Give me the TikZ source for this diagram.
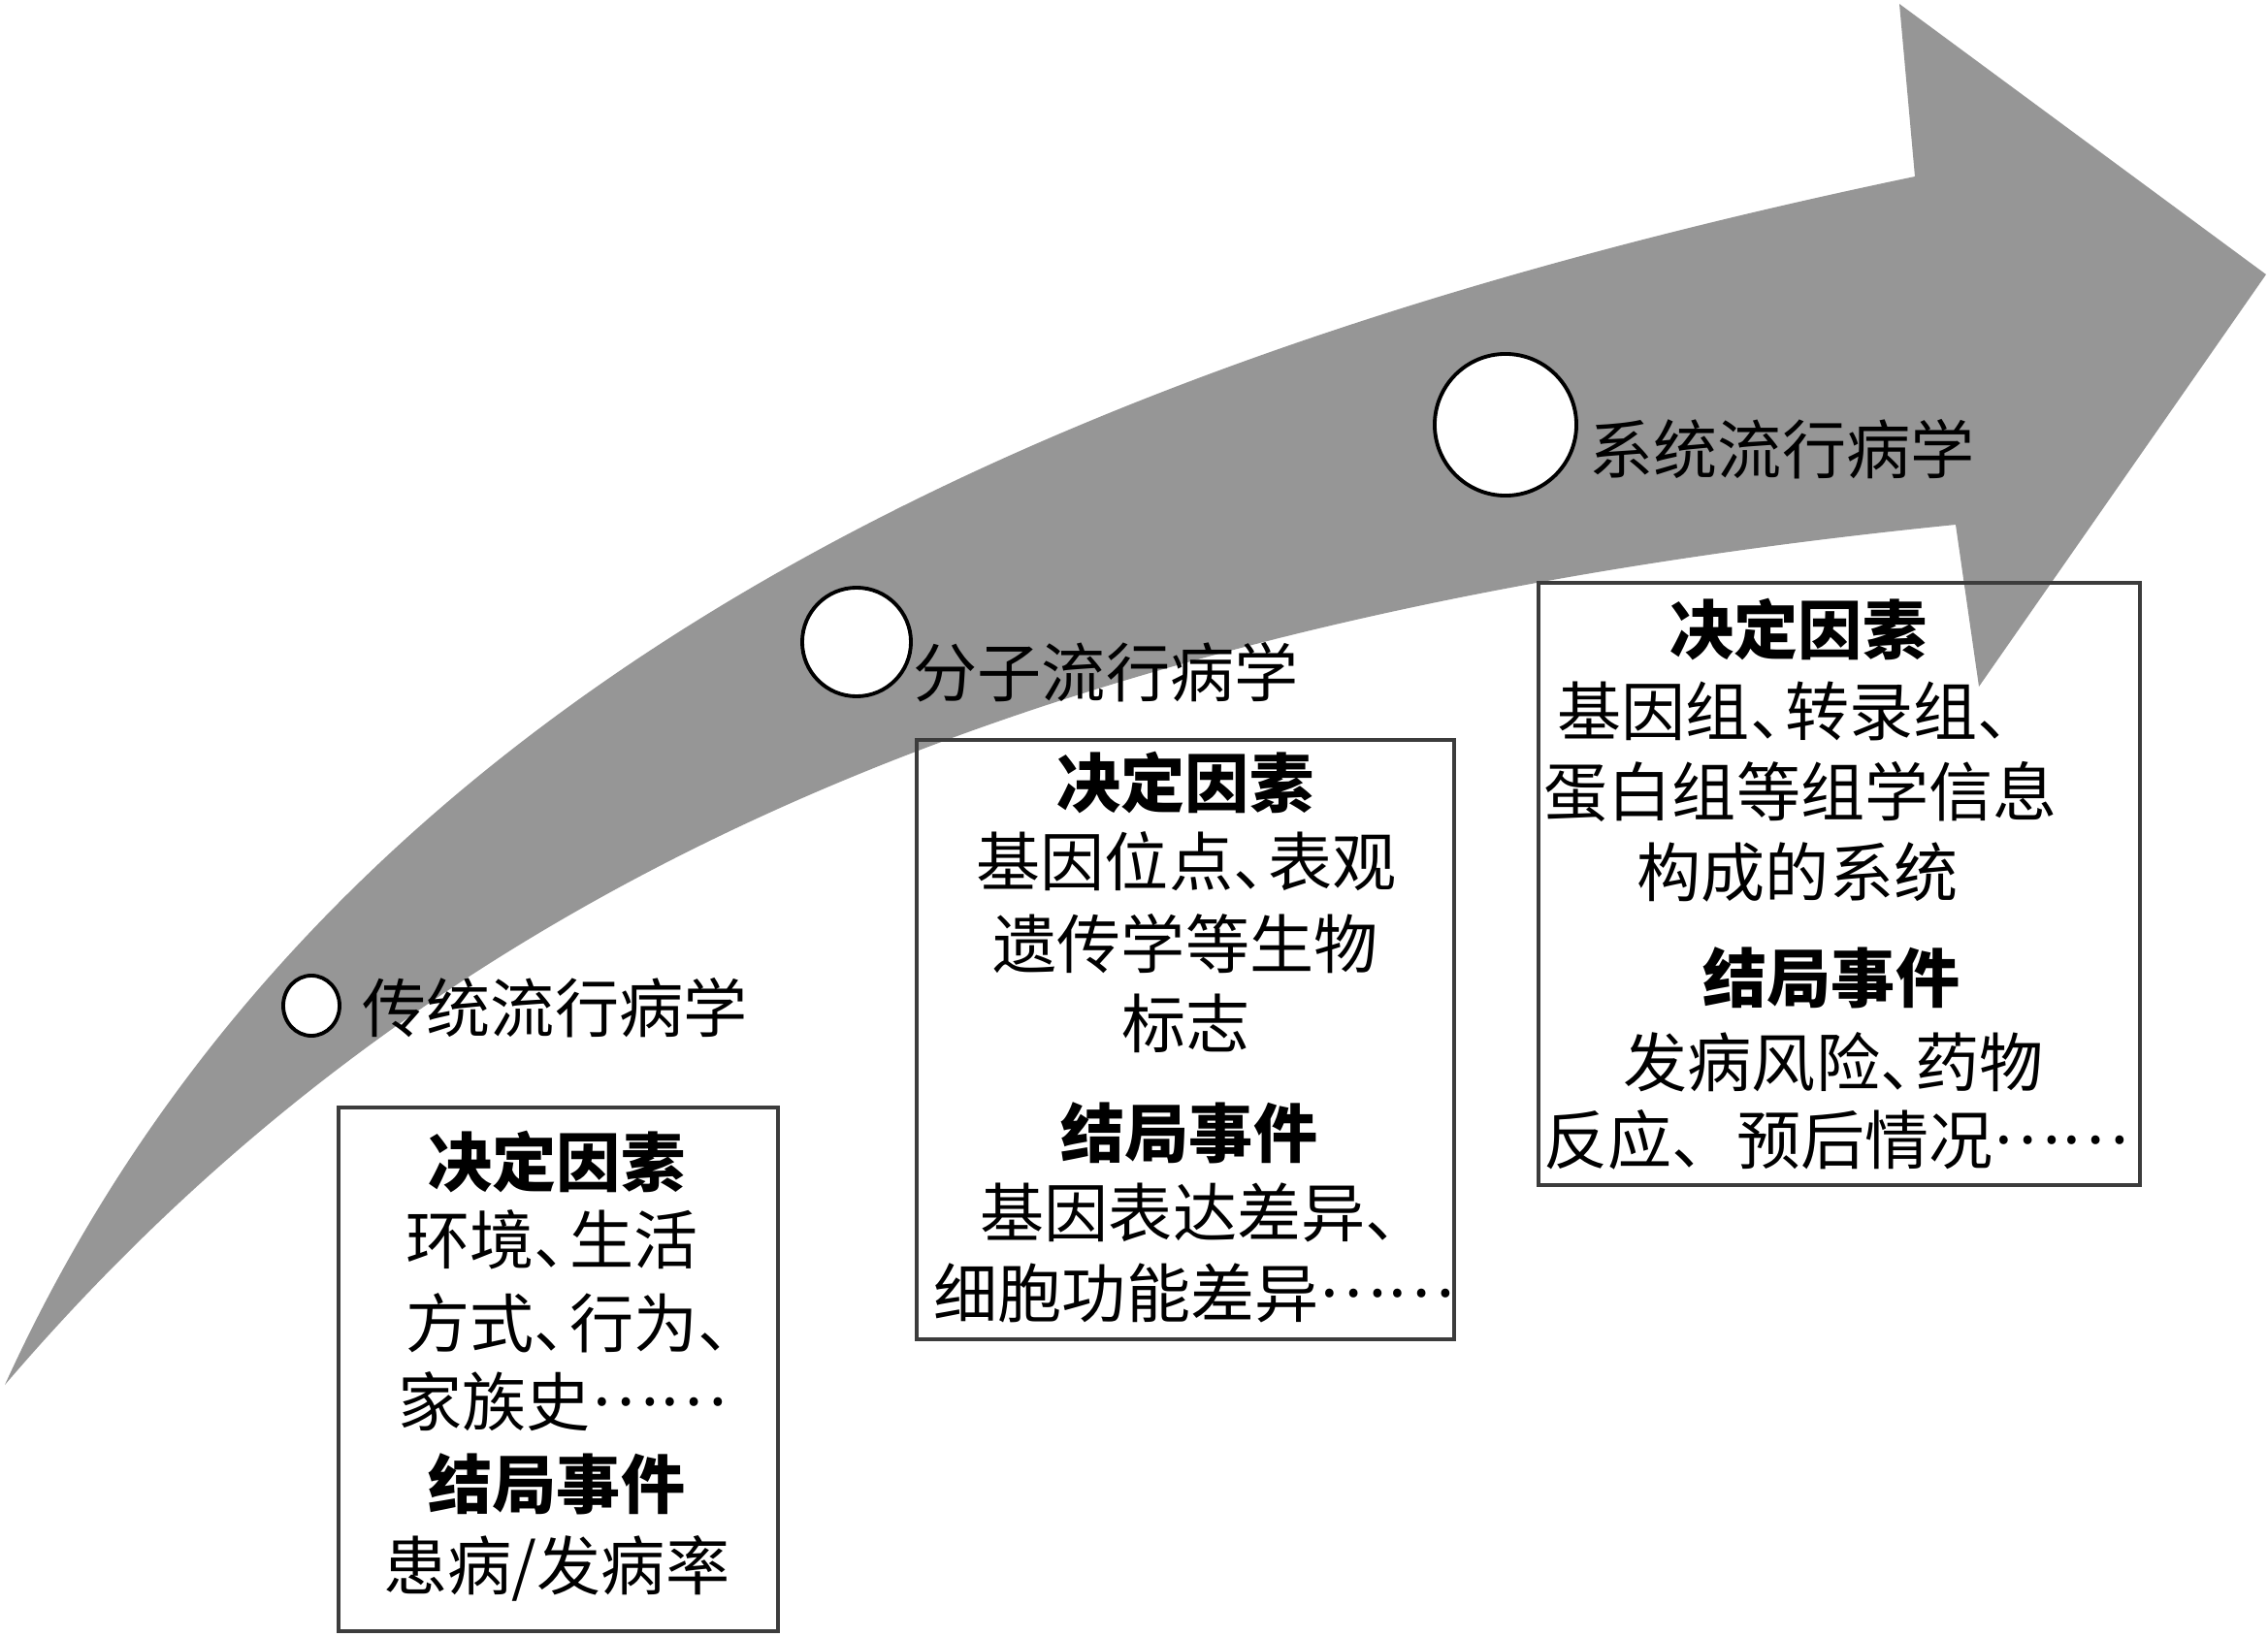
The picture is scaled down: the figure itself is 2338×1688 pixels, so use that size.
\documentclass[tikz,border=0pt]{standalone}
\usepackage{fontspec}
\usetikzlibrary{shapes.geometric}
\newfontfamily\cjk{Noto Sans CJK SC}
\definecolor{arrowgray}{RGB}{150,150,150}
\definecolor{boxline}{RGB}{60,60,60}
\newcommand\dun{、\kern-0.45em\relax}
\newcommand\mydots{\raisebox{0.32em}{……}}
\begin{document}
\begin{tikzpicture}[x=0.01cm,y=-0.01cm,
  txt/.style={anchor=west, inner sep=0pt, font=\cjk\fontsize{18.8pt}{22pt}\selectfont, text height=16.5pt, text depth=2.3pt},
  hd/.style={txt, font=\cjk\bfseries\fontsize{18.8pt}{22pt}\selectfont},
  ring/.style={draw=black, fill=white, line width=1.1pt, inner sep=0pt},
  frame/.style={draw=boxline, line width=1.2pt, rectangle, inner sep=0pt}]
\useasboundingbox (0,0) rectangle (2338,1688);
% big curved arrow
\fill[arrowgray] (5,1428) .. controls (336,700) and (1093,366) .. (1974,182)
  -- (1958,4) -- (2336,283) -- (2040,708) -- (2016,541)
  .. controls (1021,641) and (428,934) .. (5,1428) -- cycle;
% circles
\node[ring, ellipse, minimum width=0.58cm, minimum height=0.62cm] (c1) at (321,1037) {};
\node[ring, circle, minimum size=1.12cm] (c2) at (883,662) {};
\node[ring, circle, minimum size=1.46cm] (c3) at (1552,438) {};
% stage labels
\node[txt] (l1) at (373,1040) {传统流行病学};
\node[txt] (l2) at (941,694) {分子流行病学};
\node[txt] (l3) at (1638,464) {系统流行病学};
% boxes
\node[frame, minimum width=4.53cm, minimum height=5.40cm] (b1) at (575.5,1412) {};
\node[frame, minimum width=5.54cm, minimum height=6.18cm] (b2) at (1222,1072) {};
\node[frame, minimum width=6.20cm, minimum height=6.21cm] (b3) at (1896,911.5) {};
% box 1 text
\node[hd]  (b1h1) at (441,1199) {决定因素};
\node[txt] (b1t1) at (418,1279) {环境\dun 生活};
\node[txt] (b1t2) at (418,1365) {方式\dun 行为、};
\node[txt] (b1t3) at (410,1446) {家族史\mydots};
\node[hd]  (b1h2) at (441,1531) {结局事件};
\node[txt] (b1t4) at (395,1615) {患病/发病率};
% box 2 text
\node[hd]  (b2h1) at (1089,808) {决定因素};
\node[txt] (b2t1) at (1006,889) {基因位点\dun 表观};
\node[txt] (b2t2) at (1023,974) {遗传学等生物};
\node[txt] (b2t3) at (1156,1056) {标志};
\node[hd]  (b2h2) at (1093,1169) {结局事件};
\node[txt] (b2t4) at (1010,1251) {基因表达差异、};
\node[txt] (b2t5) at (962,1334) {细胞功能差异\mydots};
% box 3 text
\node[hd]  (b3h1) at (1721,650) {决定因素};
\node[txt] (b3t1) at (1605,734) {基因组\dun 转录组、};
\node[txt] (b3t2) at (1591,817) {蛋白组等组学信息};
\node[txt] (b3t3) at (1687,900) {构成的系统};
\node[hd]  (b3h2) at (1755,1009) {结局事件};
\node[txt] (b3t4) at (1673,1096) {发病风险\dun 药物};
\node[txt] (b3t5) at (1591,1176) {反应、预后情况\mydots};
\end{tikzpicture}
\end{document}
